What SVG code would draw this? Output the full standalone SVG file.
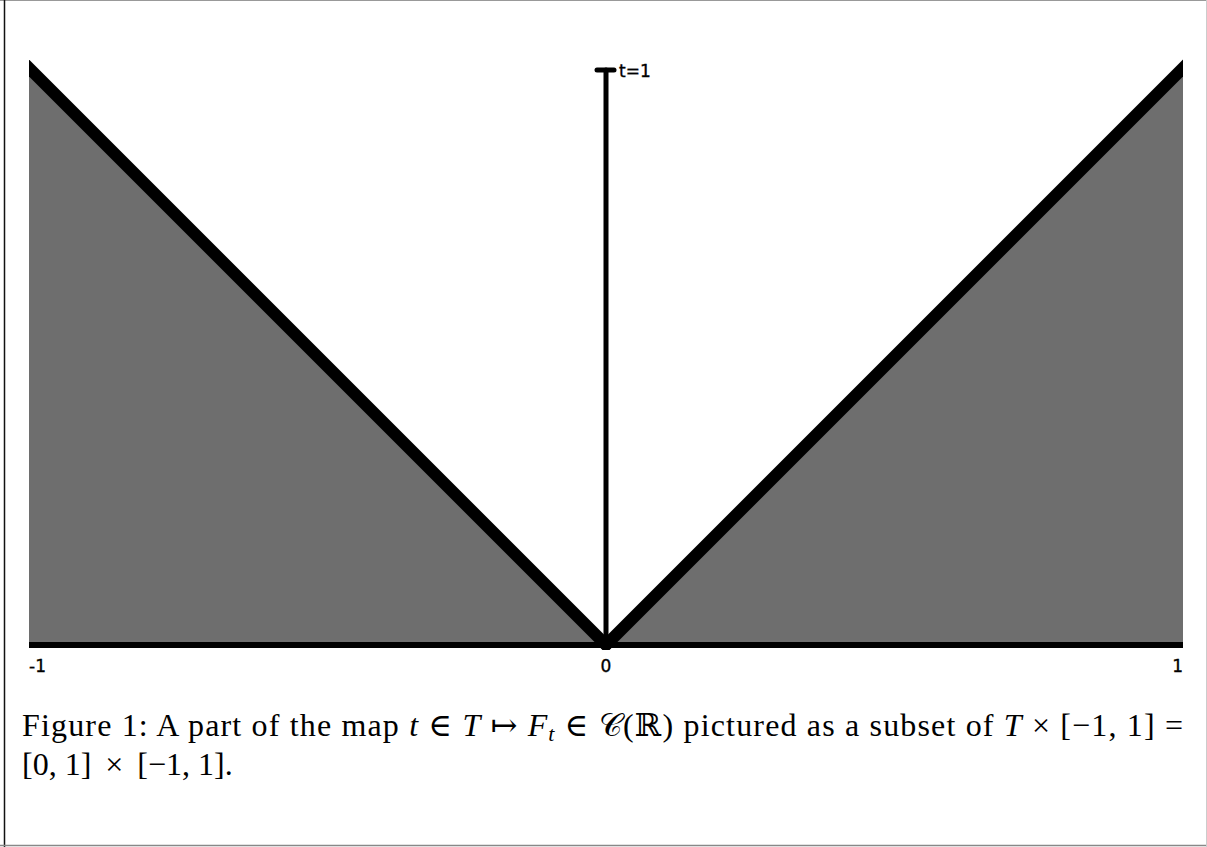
<svg xmlns="http://www.w3.org/2000/svg" width="1207" height="847" viewBox="0 0 1207 847">
<style>
.fill{fill:#6e6e6e;stroke:none}
.thick{stroke:#000;stroke-width:12;fill:none;stroke-linecap:butt}
.axis{stroke:#000;stroke-width:6;fill:none}
.stem{stroke:#000;stroke-width:5;fill:none;stroke-linecap:round}
.lbl{font-family:"DejaVu Sans",sans-serif;font-size:17px;fill:#000;stroke:#000;stroke-width:0.35}
.cap{font-family:"Liberation Serif","DejaVu Serif",serif;font-size:32px;fill:#000}
.it{font-style:italic}
</style>
<rect x="0" y="0" width="1207" height="847" fill="#fff"/>
<g id="frame">
<line x1="0" y1="0.5" x2="1207" y2="0.5" stroke="#999" stroke-width="1"/>
<line x1="4.5" y1="0" x2="4.5" y2="847" stroke="#111" stroke-width="1.5"/>
<line x1="0" y1="845.5" x2="1207" y2="845.5" stroke="#888" stroke-width="1.5"/>
<line x1="1206.5" y1="0" x2="1206.5" y2="847" stroke="#ccc" stroke-width="1"/>
</g>
<g id="left-region">
<polygon class="fill" points="29,68 606,645 29,645"/>
</g>
<g id="right-region">
<polygon class="fill" points="1183,68 606,645 1183,645"/>
</g>
<g id="connectors">
<clipPath id="plotclip"><rect x="29" y="40" width="1154" height="610"/></clipPath>
<g clip-path="url(#plotclip)">
<line class="thick" x1="22" y1="61" x2="610" y2="649"/>
<line class="thick" x1="1190" y1="61" x2="602" y2="649"/>
</g>
<line class="axis" x1="29" y1="645" x2="1183" y2="645"/>
<line class="stem" x1="606" y1="70" x2="606" y2="645"/>
<line class="stem" x1="597" y1="70" x2="614" y2="70"/>
</g>
<g id="labels">
<text class="lbl" x="619" y="77">t=1</text>
<text class="lbl" x="29" y="672">-1</text>
<text class="lbl" x="606" y="672" text-anchor="middle">0</text>
<text class="lbl" x="1183" y="672" text-anchor="end">1</text>
</g>
<g id="caption">
<text class="cap" x="22" y="736" textLength="1161" lengthAdjust="spacing">Figure 1: A part of the map <tspan class="it">t</tspan> ∈ <tspan class="it">T</tspan> ↦ <tspan class="it">F</tspan><tspan class="it" font-size="22" dy="5">t</tspan><tspan dy="-5"> ∈ </tspan>𝒞(ℝ) pictured as a subset of <tspan class="it">T</tspan> × [−1, 1] =</text>
<text class="cap" x="22" y="775">[0, 1]<tspan dx="6"> × </tspan><tspan dx="6">[−1, 1].</tspan></text>
</g>
</svg>
